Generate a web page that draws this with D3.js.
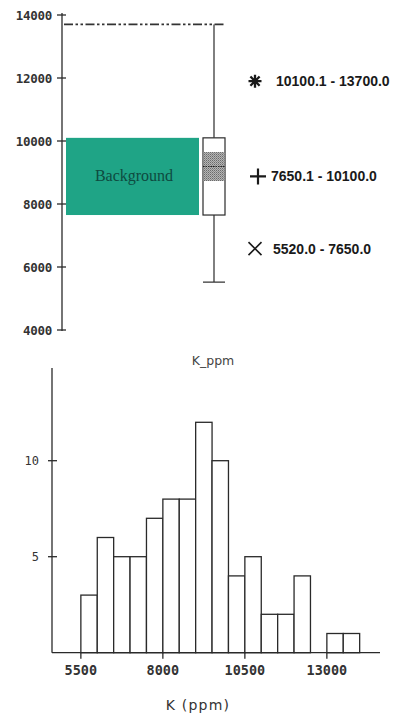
<!DOCTYPE html>
<html>
<head>
<meta charset="utf-8">
<script src="https://cdn.jsdelivr.net/npm/d3@7"></script>
<style>
  html, body { margin: 0; padding: 0; background: #fff; }
  svg { display: block; }
</style>
</head>
<body>
<svg id="chart" width="398" height="720"></svg>
<script>
// ---- Box plot data (K, ppm) ----
const boxTicks = [4000, 6000, 8000, 10000, 12000, 14000];
const whiskerLow = 5520;
const quartileLow = 7650;
const quartileHigh = 10100;
const whiskerHigh = 13700;
const medianValue = 9190;
const notchRange = [8730, 9650];
const backgroundRange = [7650, 10100];
const backgroundLabel = "Background";
const legendLabels = ["10100.1 - 13700.0", "7650.1 - 10100.0", "5520.0 - 7650.0"];
const legendValues = [11900, 8875, 6585];
const legendSymbols = ["asterisk", "plus", "cross"];
const boxTitle = "K_ppm";

// ---- Histogram data ----
const binStarts = [5500, 6000, 6500, 7000, 7500, 8000, 8500, 9000, 9500, 10000,
                   10500, 11000, 11500, 12000, 12500, 13000, 13500];
const binCounts = [3, 6, 5, 5, 7, 8, 8, 12, 10, 4, 5, 2, 2, 4, 0, 1, 1];
const binWidth = 500;
const histXTicks = [5500, 8000, 10500, 13000];
const histYTicks = [5, 10];
const histXTitle = "K  (ppm)";

const svg = d3.select("#chart");
const ink = "#2a2a2a";
const monoFont = "'DejaVu Sans Mono', monospace";

// stipple fill for the notch band around the median
const defs = svg.append("defs");
const pat = defs.append("pattern")
  .attr("id", "stipple").attr("patternUnits", "userSpaceOnUse")
  .attr("width", 2).attr("height", 2);
pat.append("rect").attr("width", 2).attr("height", 2).attr("fill", "#b5b5b5");
pat.append("rect").attr("width", 1).attr("height", 1).attr("fill", "#6a6a6a");
pat.append("rect").attr("x", 1).attr("y", 1).attr("width", 1).attr("height", 1).attr("fill", "#8a8a8a");

// ================= Top panel: box plot =================
const yBox = d3.scaleLinear().domain([4000, 14000]).range([330, 15]);
const axisX = 62;

const gAxis = svg.append("g").attr("transform", `translate(${axisX},0)`);
gAxis.append("line").attr("y1", 13).attr("y2", 331)
  .attr("stroke", ink).attr("stroke-width", 1.3);
const tk = gAxis.selectAll("g.tk").data(boxTicks).join("g")
  .attr("transform", d => `translate(0,${yBox(d)})`);
tk.append("line").attr("x1", -5).attr("x2", 4).attr("stroke", ink).attr("stroke-width", 1.3);
tk.append("text").attr("x", -10).attr("dy", "0.36em")
  .attr("text-anchor", "end").attr("font-family", monoFont)
  .attr("font-weight", "bold").attr("font-size", 12.5).attr("letter-spacing", -0.3)
  .attr("fill", "#333").text(d => d);

// background band
svg.append("rect")
  .attr("x", 66).attr("width", 133)
  .attr("y", yBox(backgroundRange[1]))
  .attr("height", yBox(backgroundRange[0]) - yBox(backgroundRange[1]))
  .attr("fill", "#1fa486");
svg.append("text")
  .attr("x", 134).attr("y", (yBox(backgroundRange[0]) + yBox(backgroundRange[1])) / 2 + 5)
  .attr("text-anchor", "middle")
  .attr("font-family", "'Liberation Serif', 'DejaVu Serif', serif")
  .attr("font-size", 16).attr("fill", "#0e4a40")
  .text(backgroundLabel);

// top whisker reference line (dash-dot)
svg.append("line")
  .attr("x1", 64).attr("x2", 226)
  .attr("y1", yBox(whiskerHigh)).attr("y2", yBox(whiskerHigh))
  .attr("stroke", "#333").attr("stroke-width", 1.7)
  .attr("stroke-dasharray", "9,2.5,2.5,2.5,2.5,2.5");

// box + whiskers
const bx = 214, bw = 22;
svg.append("line").attr("x1", bx).attr("x2", bx)
  .attr("y1", yBox(whiskerHigh)).attr("y2", yBox(quartileHigh))
  .attr("stroke", ink).attr("stroke-width", 1.2);
svg.append("line").attr("x1", bx).attr("x2", bx)
  .attr("y1", yBox(quartileLow)).attr("y2", yBox(whiskerLow))
  .attr("stroke", ink).attr("stroke-width", 1.2);
svg.append("line").attr("x1", bx - bw / 2).attr("x2", bx + bw / 2)
  .attr("y1", yBox(whiskerLow)).attr("y2", yBox(whiskerLow))
  .attr("stroke", ink).attr("stroke-width", 1.2);
svg.append("rect")
  .attr("x", bx - bw / 2).attr("width", bw)
  .attr("y", yBox(quartileHigh)).attr("height", yBox(quartileLow) - yBox(quartileHigh))
  .attr("fill", "#fff").attr("stroke", ink).attr("stroke-width", 1.2);
svg.append("rect")
  .attr("x", bx - bw / 2 + 0.6).attr("width", bw - 1.2)
  .attr("y", yBox(notchRange[1])).attr("height", yBox(notchRange[0]) - yBox(notchRange[1]))
  .attr("fill", "url(#stipple)");
svg.append("line")
  .attr("x1", bx - bw / 2).attr("x2", bx + bw / 2)
  .attr("y1", yBox(medianValue)).attr("y2", yBox(medianValue))
  .attr("stroke", "#222").attr("stroke-width", 1).attr("stroke-dasharray", "1.5,1");

// legend for the value classes
const symPath = {
  asterisk: r => {
    const p = d3.path();
    for (let i = 0; i < 4; i++) {
      const a = i * Math.PI / 4;
      p.moveTo(-r * Math.cos(a), -r * Math.sin(a));
      p.lineTo(r * Math.cos(a), r * Math.sin(a));
    }
    return p.toString();
  },
  plus: r => `M${-r},0L${r},0M0,${-r}L0,${r}`,
  cross: r => `M${-r},${-r}L${r},${r}M${-r},${r}L${r},${-r}`
};
const symSize = { asterisk: 6.5, plus: 8, cross: 6.5 };
const symWidth = { asterisk: 2.3, plus: 2.2, cross: 1.6 };
const symX = { asterisk: 255, plus: 258, cross: 255 };
const textX = [276, 271, 273];

const leg = svg.selectAll("g.leg").data(legendLabels).join("g")
  .attr("transform", (d, i) => `translate(0,${yBox(legendValues[i])})`);
leg.append("path")
  .attr("transform", (d, i) => `translate(${symX[legendSymbols[i]]},0)`)
  .attr("d", (d, i) => symPath[legendSymbols[i]](symSize[legendSymbols[i]]))
  .attr("fill", "none").attr("stroke", "#1a1a1a")
  .attr("stroke-width", (d, i) => symWidth[legendSymbols[i]]);
leg.append("text")
  .attr("x", (d, i) => textX[i]).attr("dy", "0.36em")
  .attr("font-family", "'Liberation Sans', Arial, sans-serif")
  .attr("font-weight", "bold").attr("font-size", 14)
  .attr("fill", "#1a1a1a").text(d => d);

svg.append("text")
  .attr("x", 213).attr("y", 365).attr("text-anchor", "middle")
  .attr("font-family", "'DejaVu Sans', sans-serif").attr("font-size", 12.5)
  .attr("fill", "#444").text(boxTitle);

// ================= Bottom panel: histogram =================
const xH = d3.scaleLinear().domain([4620, 14620]).range([52, 380]);
const yH = d3.scaleLinear().domain([0, 10]).range([652.7, 460.7]);

svg.append("g").selectAll("rect").data(binStarts).join("rect")
  .attr("x", d => xH(d))
  .attr("width", d => xH(d + binWidth) - xH(d))
  .attr("y", (d, i) => yH(binCounts[i]))
  .attr("height", (d, i) => yH(0) - yH(binCounts[i]))
  .attr("fill", "#fff").attr("stroke", ink).attr("stroke-width", 1.3)
  .attr("display", (d, i) => binCounts[i] > 0 ? null : "none");

// y axis
const hy = svg.append("g").attr("transform", `translate(${xH.range()[0]},0)`);
hy.append("line").attr("y1", 368).attr("y2", yH(0))
  .attr("stroke", ink).attr("stroke-width", 1.3);
const hyt = hy.selectAll("g").data(histYTicks).join("g")
  .attr("transform", d => `translate(0,${yH(d)})`);
hyt.append("line").attr("x1", -4).attr("x2", 5).attr("stroke", ink).attr("stroke-width", 1.3);
hyt.append("text").attr("x", -13).attr("dy", "0.36em").attr("text-anchor", "end")
  .attr("font-family", monoFont).attr("font-size", 12).attr("fill", "#333")
  .text(d => d);

// x axis
const hx = svg.append("g").attr("transform", `translate(0,${yH(0)})`);
hx.append("line").attr("x1", xH.range()[0]).attr("x2", xH.range()[1])
  .attr("stroke", ink).attr("stroke-width", 1.3);
const hxt = hx.selectAll("g").data(histXTicks).join("g")
  .attr("transform", d => `translate(${xH(d)},0)`);
hxt.append("line").attr("y1", 0).attr("y2", 6).attr("stroke", ink).attr("stroke-width", 1.3);
hxt.append("text").attr("y", 22).attr("text-anchor", "middle")
  .attr("font-family", monoFont).attr("font-weight", "bold").attr("font-size", 13.5)
  .attr("fill", "#333").text(d => d);

svg.append("text")
  .attr("x", 198).attr("y", 710).attr("text-anchor", "middle")
  .attr("font-family", "'DejaVu Sans', sans-serif").attr("font-size", 14)
  .attr("letter-spacing", 1.2)
  .attr("fill", "#333").text(histXTitle);
</script>
</body>
</html>
